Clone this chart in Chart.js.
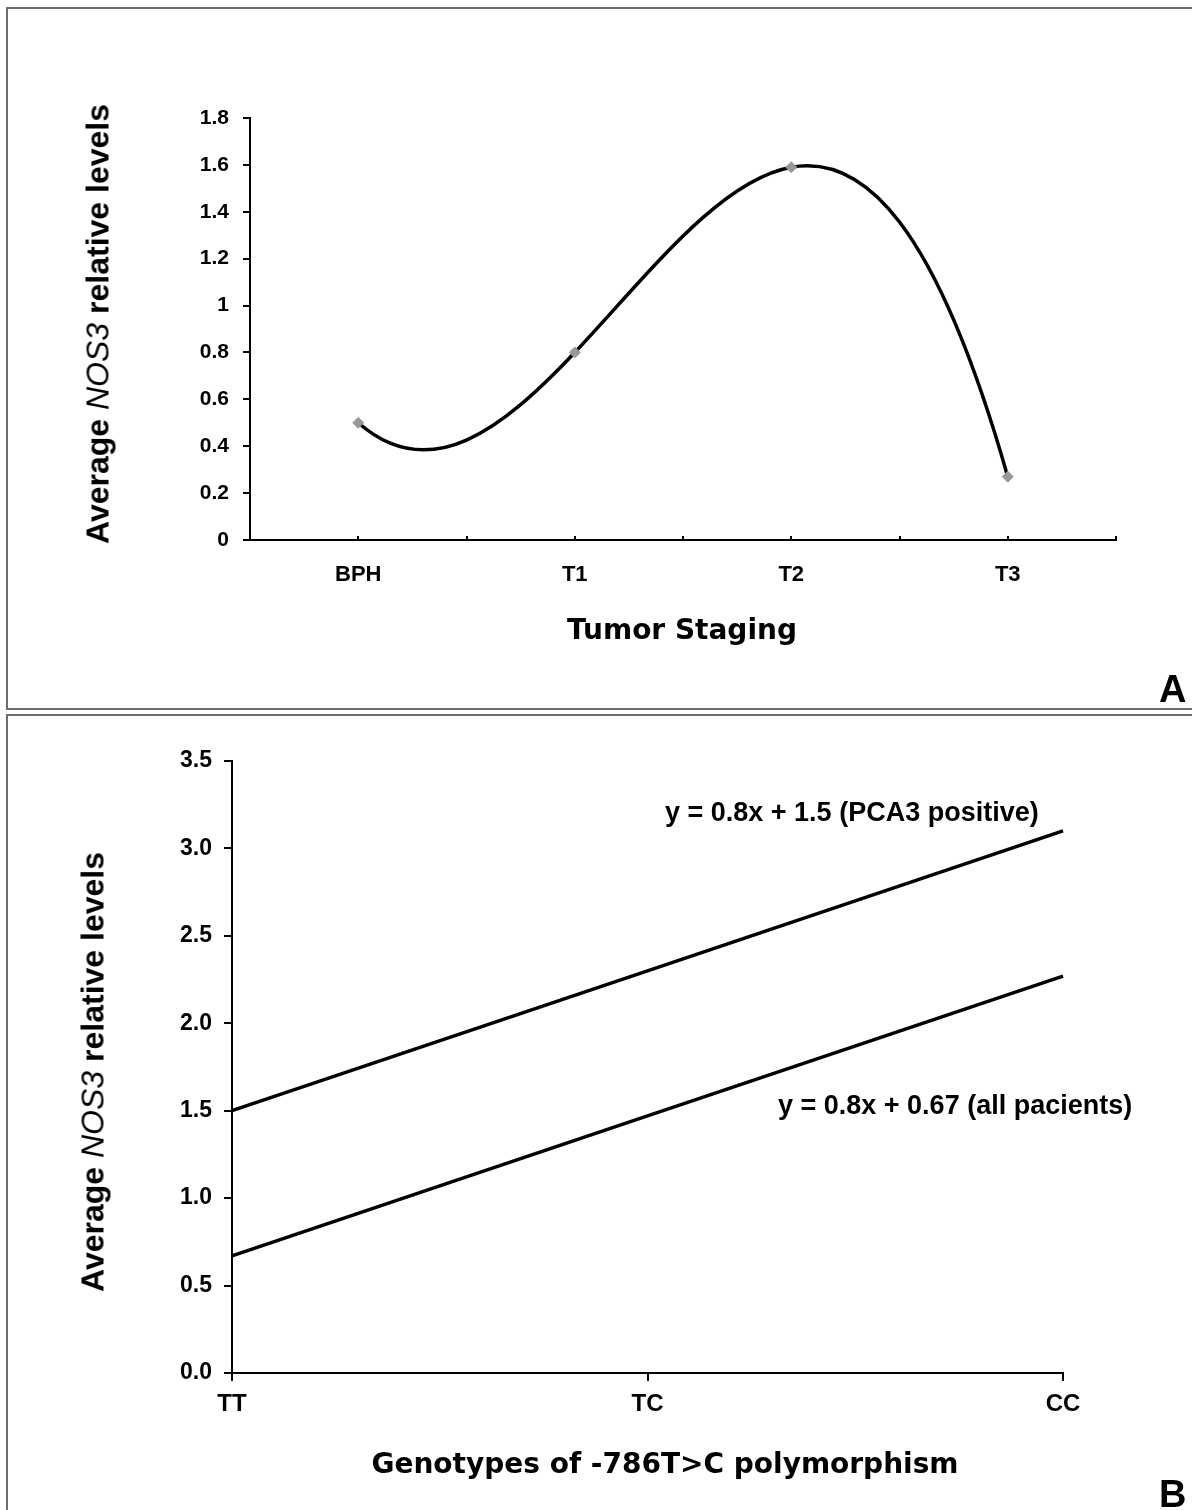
<!DOCTYPE html>
<html>
<head>
<meta charset="utf-8">
<title>NOS3 relative levels</title>
<script src="https://cdn.jsdelivr.net/npm/chart.js@4/dist/chart.umd.min.js"></script>
<style>
  body { margin: 0; background: #fff; }
  #page { position: relative; width: 1192px; height: 1510px; overflow: hidden; background: #fff; }
  .panel { position: absolute; left: 6px; width: 1200px; border: 2px solid #6e6e6e; box-sizing: border-box; }
  canvas { position: absolute; left: 0; }
  .txt { position: absolute; white-space: nowrap; line-height: 1; color: #000; }
  .ytitle { font: bold 32px "Liberation Sans", Arial, sans-serif; transform: translate(-50%, -50%) rotate(-90deg); }
  .ytitle i { font-weight: normal; }
  .xtitle { font: bold 28px "DejaVu Sans", Verdana, sans-serif; transform: translate(-50%, -50%); }
  .note { font: bold 27px "Liberation Sans", Arial, sans-serif; transform: translateY(-50%); }
  .letter { font: bold 38px "Liberation Sans", Arial, sans-serif; }
</style>
</head>
<body>
<div id="page">
  <div class="panel" style="top:7px;height:703px"></div>
  <div class="panel" style="top:714px;height:810px"></div>

  <canvas id="chartA" width="1192" height="708" style="top:0"></canvas>
  <canvas id="chartB" width="1192" height="794" style="top:716px"></canvas>

  <div class="txt ytitle" style="left:98px;top:324px">Average <i>NOS3</i> relative levels</div>
  <div class="txt xtitle" style="left:682px;top:629px">Tumor Staging</div>
  <div class="txt letter" style="left:1159px;top:668px">A</div>

  <div class="txt ytitle" style="left:93px;top:1072px">Average <i>NOS3</i> relative levels</div>
  <div class="txt xtitle" style="left:665px;top:1463px">Genotypes of -786T&gt;C polymorphism</div>
  <div class="txt note" style="left:665px;top:812px">y = 0.8x + 1.5 (PCA3 positive)</div>
  <div class="txt note" style="left:778px;top:1105px">y = 0.8x + 0.67 (all pacients)</div>
  <div class="txt letter" style="left:1159px;top:1473px">B</div>
</div>

<script>
// panel A: tumour staging
const stages = ['BPH', 'T1', 'T2', 'T3'];
const levelsA = [0.5, 0.8, 1.59, 0.27];
const yTicksA = [0, 0.2, 0.4, 0.6, 0.8, 1, 1.2, 1.4, 1.6, 1.8];

// panel B: genotypes
const genotypes = ['TT', 'TC', 'CC'];
const pca3Positive = [1.5, 2.3, 3.1];
const allPatients = [0.67, 1.47, 2.27];
const yTicksB = [0, 0.5, 1, 1.5, 2, 2.5, 3, 3.5];

const tickFont = (size) => ({ family: '"Liberation Sans", Arial, sans-serif', size: size, weight: 'bold' });

// slope of the polynomial through all points, used for Excel-like smoothing
function polySlope(xs, ys, x) {
    let d = 0;
    for (let j = 0; j < xs.length; j++) {
        let sum = 0;
        for (let m = 0; m < xs.length; m++) {
            if (m === j) continue;
            let prod = 1 / (xs[j] - xs[m]);
            for (let k = 0; k < xs.length; k++) {
                if (k === j || k === m) continue;
                prod *= (x - xs[k]) / (xs[j] - xs[k]);
            }
            sum += prod;
        }
        d += ys[j] * sum;
    }
    return d;
}

const smoothLine = {
    id: 'smoothLine',
    beforeDatasetDraw(chart, args) {
        const meta = args.meta;
        const xScale = chart.scales.x;
        const yScale = chart.scales.y;
        const xs = levelsA.map((v, i) => i);
        meta.dataset.updateControlPoints(chart.chartArea, 'x');
        const dx = xScale.getPixelForValue(1) - xScale.getPixelForValue(0);
        const dy = yScale.getPixelForValue(1) - yScale.getPixelForValue(0);
        meta.data.forEach((pt, i) => {
            const m = polySlope(xs, levelsA, xs[i]);
            pt.cp1x = pt.x - dx / 3;
            pt.cp1y = pt.y - m * dy / 3;
            pt.cp2x = pt.x + dx / 3;
            pt.cp2y = pt.y + m * dy / 3;
        });
    }
};

new Chart(document.getElementById('chartA'), {
    type: 'line',
    data: {
        datasets: [{
            data: levelsA.map((v, i) => ({ x: i, y: v })),
            borderColor: '#000',
            borderWidth: 3.5,
            tension: 0.4,
            pointStyle: 'rectRot',
            pointRadius: 5.5,
            pointBackgroundColor: '#999',
            pointBorderColor: '#999',
            pointBorderWidth: 1
        }]
    },
    options: {
        responsive: false,
        animation: false,
        devicePixelRatio: 1,
        layout: { padding: { left: 0, top: 118, right: 76, bottom: 0 } },
        plugins: { legend: { display: false }, tooltip: { enabled: false } },
        scales: {
            x: {
                type: 'linear',
                min: -0.5,
                max: 3.5,
                afterFit: (s) => { s.height = 168; },
                afterBuildTicks: (s) => {
                    s.ticks = [];
                    for (let i = 0; i <= stages.length * 2; i++) s.ticks.push({ value: -0.5 + i * 0.5 });
                },
                ticks: {
                    autoSkip: false,
                    maxRotation: 0,
                    padding: 26,
                    color: '#000',
                    font: tickFont(22),
                    callback: (v) => Number.isInteger(v) ? stages[v] : ''
                },
                grid: { drawOnChartArea: false, tickLength: -4, color: '#000', lineWidth: 2 },
                border: { color: '#000', width: 2 }
            },
            y: {
                min: 0,
                max: 1.8,
                afterFit: (s) => { s.width = 250; },
                afterBuildTicks: (s) => { s.ticks = yTicksA.map((v) => ({ value: v })); },
                ticks: {
                    padding: 14,
                    color: '#000',
                    font: tickFont(21),
                    callback: (v) => String(Math.round(v * 10) / 10)
                },
                grid: { drawOnChartArea: false, tickLength: 7, color: '#000', lineWidth: 2 },
                border: { color: '#000', width: 2 }
            }
        }
    },
    plugins: [smoothLine]
});

new Chart(document.getElementById('chartB'), {
    type: 'line',
    data: {
        labels: genotypes,
        datasets: [
            { label: 'PCA3 positive', data: pca3Positive, borderColor: '#000', borderWidth: 3.5, pointRadius: 0, tension: 0 },
            { label: 'all pacients', data: allPatients, borderColor: '#000', borderWidth: 3.5, pointRadius: 0, tension: 0 }
        ]
    },
    options: {
        responsive: false,
        animation: false,
        devicePixelRatio: 1,
        layout: { padding: { left: 0, top: 45, right: 129, bottom: 0 } },
        plugins: { legend: { display: false }, tooltip: { enabled: false } },
        scales: {
            x: {
                offset: false,
                afterFit: (s) => { s.height = 137; },
                ticks: { padding: 9, color: '#000', font: tickFont(24), maxRotation: 0 },
                grid: { drawOnChartArea: false, tickLength: 8, color: '#000', lineWidth: 2 },
                border: { color: '#000', width: 2 }
            },
            y: {
                min: 0,
                max: 3.5,
                afterFit: (s) => { s.width = 232; },
                afterBuildTicks: (s) => { s.ticks = yTicksB.map((v) => ({ value: v })); },
                ticks: {
                    padding: 12,
                    color: '#000',
                    font: tickFont(23),
                    callback: (v) => v.toFixed(1)
                },
                grid: { drawOnChartArea: false, tickLength: 8, color: '#000', lineWidth: 2 },
                border: { color: '#000', width: 2 }
            }
        }
    }
});
</script>
</body>
</html>
